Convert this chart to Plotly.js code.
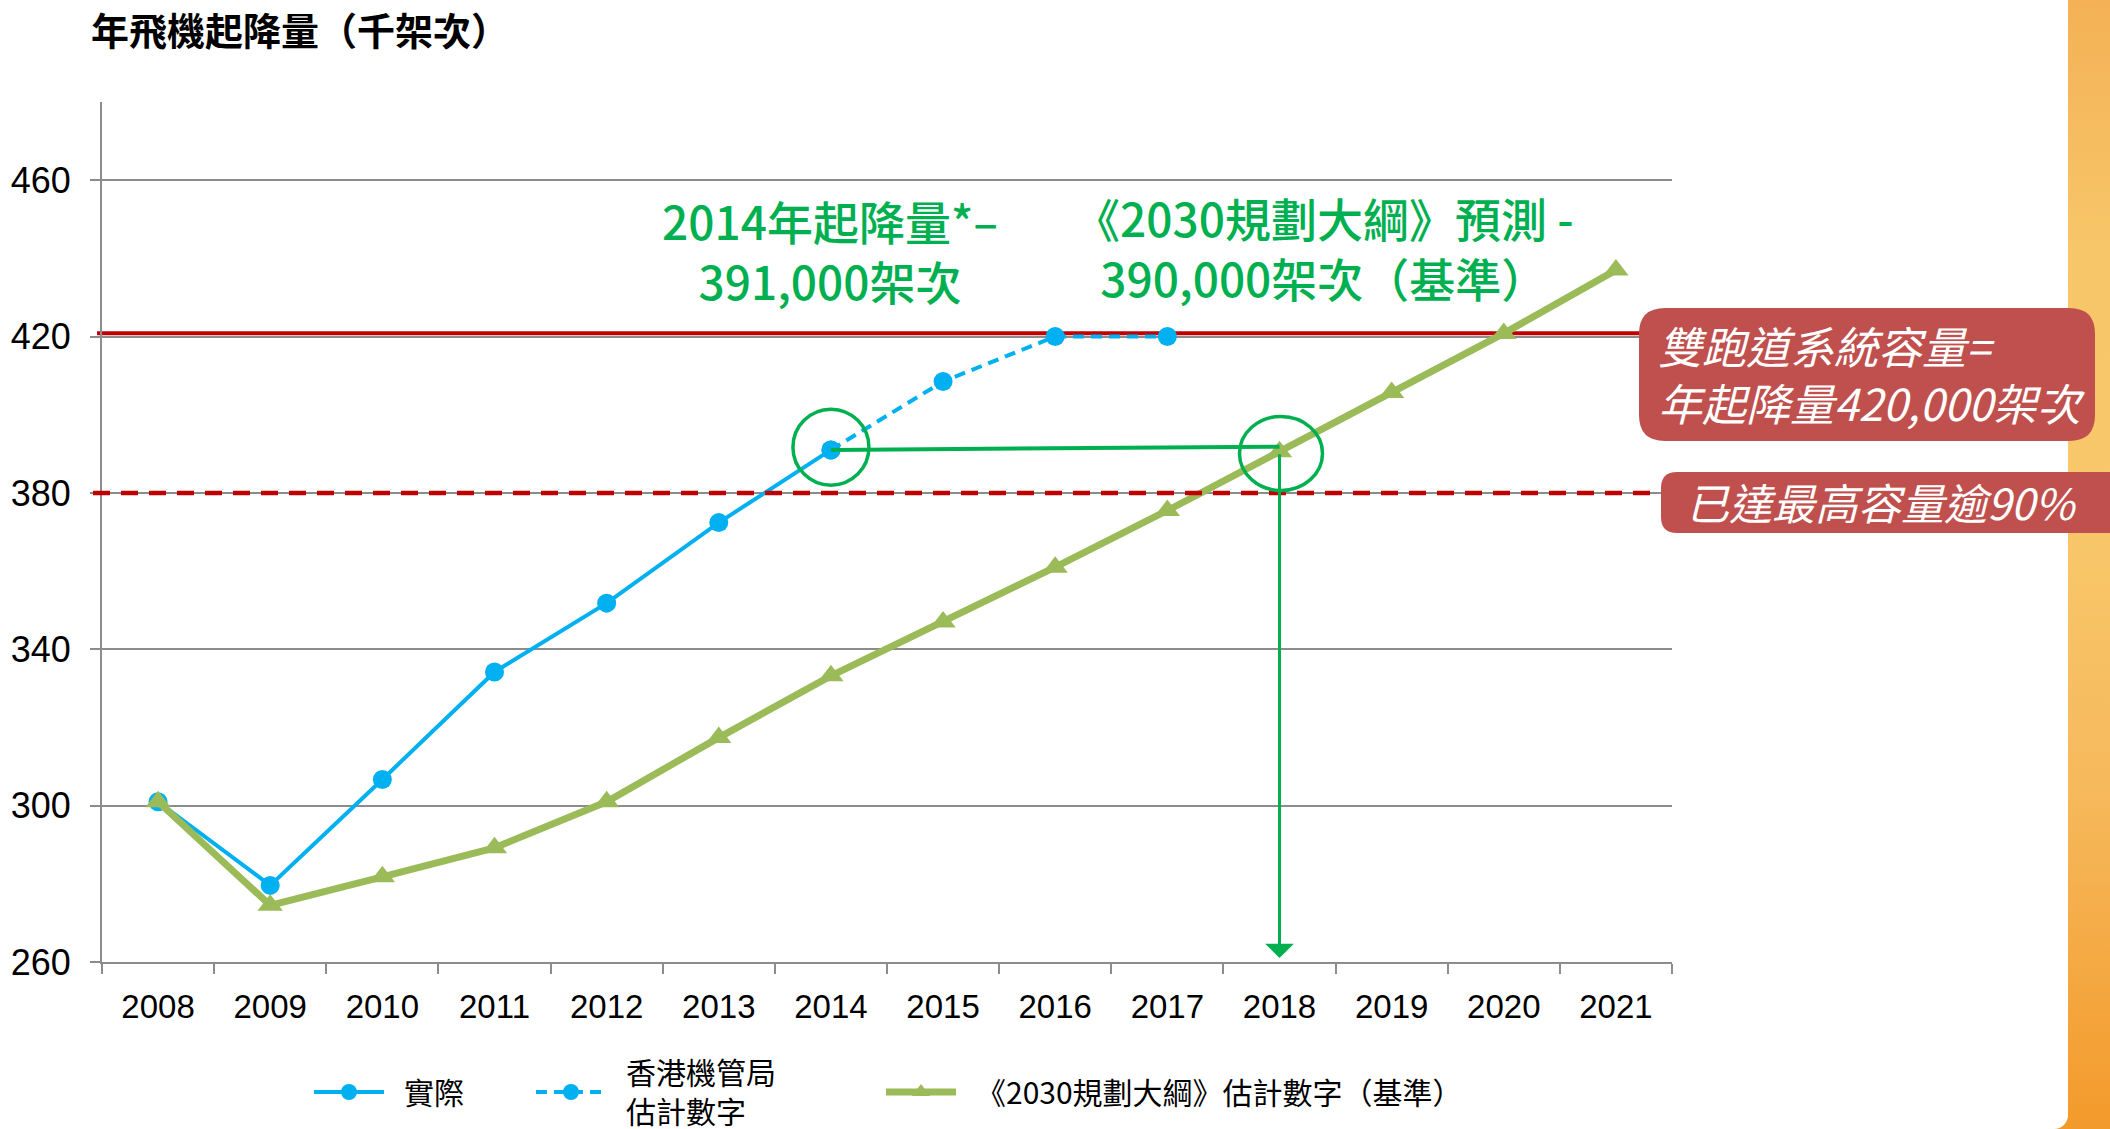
<!DOCTYPE html>
<html>
<head>
<meta charset="utf-8">
<script src="https://cdn.plot.ly/plotly-3.0.1.min.js"></script>
<style>
  html, body { margin:0; padding:0; width:2110px; height:1129px; overflow:hidden; }
  body { background: linear-gradient(to bottom, #F4B156 0%, #F7C668 22%, #F8C86A 45%, #F6B95C 70%, #F39A2B 100%); }
  #panel { position:absolute; left:0; top:0; width:2068px; height:1129px; background:#ffffff; border-bottom-right-radius:14px; }
  #chart { position:absolute; left:0; top:0; width:2110px; height:1129px; }
</style>
</head>
<body>
<div id="panel"></div>
<div id="chart"></div>
<script>
// ---- Data (thousand aircraft movements) ----
const years = ['2008','2009','2010','2011','2012','2013','2014','2015','2016','2017','2018','2019','2020','2021'];
const actualValues = [301, 279.6, 306.7, 334.2, 351.8, 372.4, 391, null, null, null, null, null, null, null];
const hkaaEstimate = [null, null, null, null, null, null, 391, 408.5, 420, 420, null, null, null, null];
const masterPlanBaseline = [301, 274.5, 281.8, 289.2, 301, 317.4, 333.2, 347, 361, 375.5, 390.5, 405.7, 420.8, 437];
const seriesNames = ['\u2002實際', '\u2002香港機管局<br>\u2002估計數字', '\u2002《2030規劃大綱》估計數字（基準）'];
const capacity = 420.85;          // two-runway capacity line
const capacity90 = 380;           // over 90% of capacity
const yTickVals = [260, 300, 340, 380, 420, 460];

// ---- Layout geometry (pixels) ----
const W = 2110, H = 1129;
const L = 102, R = 1672, T = 102, B = 962;
const px = x => (x - L) / (R - L);
const py = y => (B - y) / (B - T);

function roundRect(x0, y0, x1, y1, r) {
  const p = (x, y) => px(x).toFixed(5) + ',' + py(y).toFixed(5);
  return 'M' + p(x0 + r, y0) + ' L' + p(x1 - r, y0) + ' Q' + p(x1, y0) + ' ' + p(x1, y0 + r) +
         ' L' + p(x1, y1 - r) + ' Q' + p(x1, y1) + ' ' + p(x1 - r, y1) +
         ' L' + p(x0 + r, y1) + ' Q' + p(x0, y1) + ' ' + p(x0, y1 - r) +
         ' L' + p(x0, y0 + r) + ' Q' + p(x0, y0) + ' ' + p(x0 + r, y0) + ' Z';
}

const idx = y => years.indexOf(y);
const CJK = '"Noto Sans CJK TC", "Noto Sans CJK SC", sans-serif';
const LAT = '"Liberation Sans", Arial, "Noto Sans CJK TC", sans-serif';
const annGreen = '#00B050';

const traces = [
  {
    x: years, y: actualValues, name: seriesNames[0], type: 'scatter', mode: 'lines+markers', legend: 'legend',
    line: { color: '#00B0F0', width: 4 }, marker: { color: '#00B0F0', size: 19, symbol: 'circle' },
    connectgaps: false, hoverinfo: 'skip'
  },
  {
    x: years, y: hkaaEstimate, name: seriesNames[1], type: 'scatter', mode: 'lines+markers', legend: 'legend2',
    line: { color: '#00B0F0', width: 4, dash: '11px,7px' }, marker: { color: '#00B0F0', size: 19, symbol: 'circle' },
    connectgaps: false, hoverinfo: 'skip'
  },
  {
    x: years, y: masterPlanBaseline, name: seriesNames[2], type: 'scatter', mode: 'lines+markers', legend: 'legend3',
    line: { color: '#9BBB59', width: 7 }, marker: { color: '#9BBB59', size: 22, symbol: 'triangle-up' },
    hoverinfo: 'skip'
  }
];

const shapes = [
  // capacity lines
  { type: 'line', xref: 'paper', yref: 'y', x0: px(97), x1: px(1650), y0: capacity, y1: capacity,
    line: { color: '#C00000', width: 4 }, layer: 'between' },
  { type: 'line', xref: 'paper', yref: 'y', x0: px(93), x1: px(1665), y0: capacity90, y1: capacity90,
    line: { color: '#C00000', width: 4.5, dash: '17px,11px' }, layer: 'above' },
  // highlight circles
  { type: 'circle', xref: 'x', yref: 'y', xsizemode: 'pixel', ysizemode: 'pixel',
    xanchor: idx('2014'), yanchor: 391.7, x0: -38, x1: 38, y0: -38, y1: 38,
    line: { color: annGreen, width: 3.5 }, layer: 'above' },
  { type: 'circle', xref: 'x', yref: 'y', xsizemode: 'pixel', ysizemode: 'pixel',
    xanchor: idx('2018'), yanchor: 390.1, x0: -40, x1: 43, y0: -37, y1: 37,
    line: { color: annGreen, width: 3.5 }, layer: 'above' },
  // connector 2014 -> 2018
  { type: 'line', xref: 'x', yref: 'y', x0: idx('2014'), y0: 391, x1: idx('2018'), y1: 391.8,
    line: { color: annGreen, width: 4 }, layer: 'above' },
  // red callout boxes
  { type: 'path', xref: 'paper', yref: 'paper', path: roundRect(1639, 308, 2095, 441, 26),
    fillcolor: '#C0504D', line: { width: 0 }, layer: 'above' },
  { type: 'path', xref: 'paper', yref: 'paper', path: roundRect(1661, 472, 2140, 533, 16),
    fillcolor: '#C0504D', line: { width: 0 }, layer: 'above' }
];

const greenFont = { family: CJK, size: 46, color: annGreen, weight: 500 };
const boxFont = s => ({ family: CJK, size: s, color: '#ffffff', style: 'italic' });

const annotations = [
  // arrow from 2018 point down to axis
  { xref: 'x', yref: 'y', axref: 'x', ayref: 'y', x: idx('2018'), y: 261, ax: idx('2018'), ay: 390.3,
    text: '', showarrow: true, arrowhead: 1, arrowsize: 1.6, arrowwidth: 3, arrowcolor: annGreen, standoff: 0 },
  // green callouts
  { xref: 'paper', yref: 'paper', x: px(830), y: py(250), text: '2014年起降量*–<br>391,000架次', showarrow: false,
    xanchor: 'center', yanchor: 'middle', align: 'center', font: greenFont },
  { xref: 'paper', yref: 'paper', x: px(1324), y: py(247), text: '《2030規劃大綱》預測 -<br>390,000架次（基準）', showarrow: false,
    xanchor: 'center', yanchor: 'middle', align: 'center', font: greenFont },
  // white box texts
  { xref: 'paper', yref: 'paper', x: px(1656), y: py(345), text: '雙跑道系統容量=', showarrow: false,
    xanchor: 'left', yanchor: 'middle', font: boxFont(44) },
  { xref: 'paper', yref: 'paper', x: px(1656), y: py(402), text: '年起降量420,000架次', showarrow: false,
    xanchor: 'left', yanchor: 'middle', font: boxFont(44) },
  { xref: 'paper', yref: 'paper', x: px(1684), y: py(501), text: '已達最高容量逾90%', showarrow: false,
    xanchor: 'left', yanchor: 'middle', font: boxFont(43) }
];

const legendBase = (xpix) => ({
  orientation: 'h', xref: 'paper', yref: 'paper', x: px(xpix), y: py(1092),
  xanchor: 'left', yanchor: 'middle', valign: 'middle',
  font: { family: CJK, size: 30, color: '#000000' }, bgcolor: 'rgba(0,0,0,0)', itemwidth: 70
});

const layout = {
  width: W, height: H,
  margin: { l: L, r: W - R, t: T, b: H - B, pad: 0, autoexpand: false },
  paper_bgcolor: 'rgba(0,0,0,0)', plot_bgcolor: 'rgba(0,0,0,0)',
  showlegend: true,
  title: {
    text: '年飛機起降量（千架次）', xref: 'container', yref: 'container',
    x: 91 / W, y: 1 - 32 / H, xanchor: 'left', yanchor: 'middle',
    font: { family: CJK, size: 38, color: '#000000', weight: 'bold' }
  },
  xaxis: {
    type: 'category', categoryorder: 'array', categoryarray: years,
    range: [-0.5, years.length - 0.5], tickson: 'boundaries',
    ticks: 'outside', ticklen: 10, tickwidth: 2, tickcolor: '#8C8C8C',
    showline: true, linecolor: '#8C8C8C', linewidth: 2, showgrid: false, zeroline: false,
    tickfont: { family: LAT, size: 33, color: '#000000' }, ticklabelstandoff: 14, fixedrange: true
  },
  yaxis: {
    range: [260, 480], tickmode: 'array', tickvals: yTickVals, ticktext: yTickVals.map(String),
    ticks: 'outside', ticklen: 10, tickwidth: 2, tickcolor: '#8C8C8C',
    showline: true, linecolor: '#8C8C8C', linewidth: 2,
    showgrid: true, gridcolor: '#8C8C8C', gridwidth: 2, zeroline: false,
    tickfont: { family: LAT, size: 36, color: '#000000' }, ticklabelstandoff: 12, fixedrange: true
  },
  legend: legendBase(309),
  legend2: legendBase(531),
  legend3: legendBase(881),
  shapes: shapes,
  annotations: annotations,
  hovermode: false
};

Plotly.newPlot('chart', traces, layout, { displayModeBar: false, staticPlot: true });
</script>
</body>
</html>
